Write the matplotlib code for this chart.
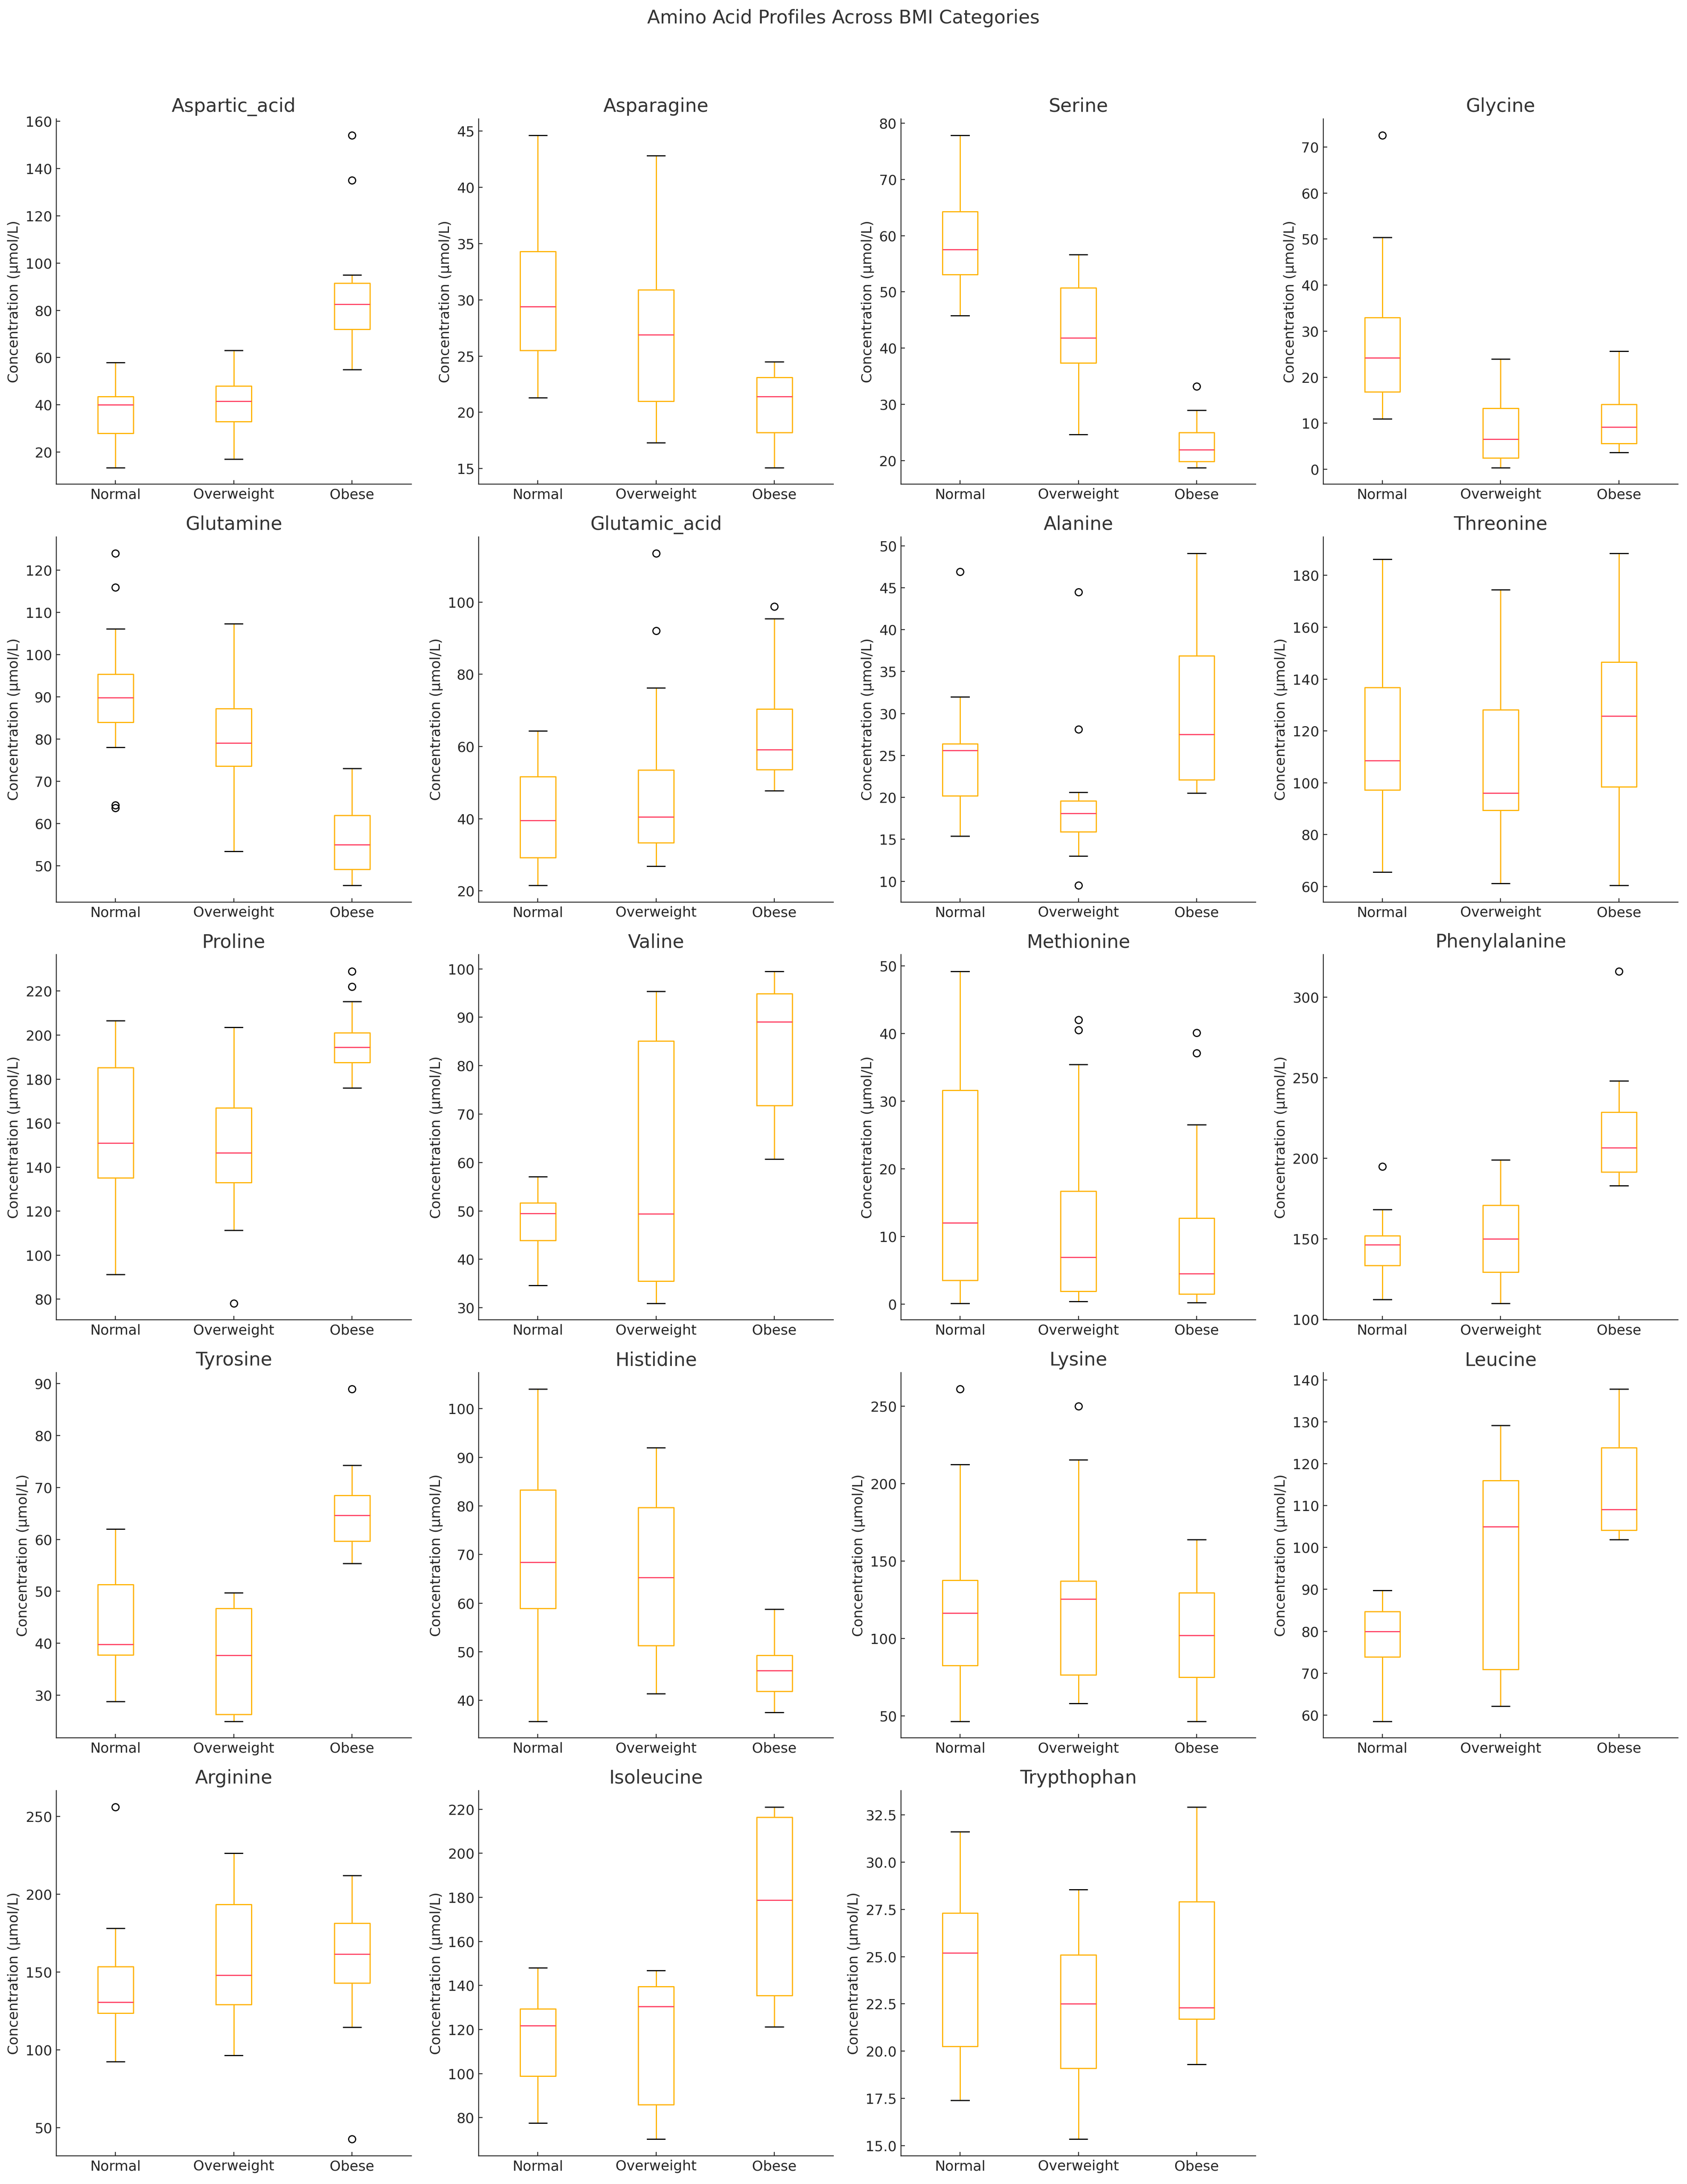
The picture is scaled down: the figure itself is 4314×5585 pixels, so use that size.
import matplotlib

matplotlib.use("Agg")
import matplotlib.pyplot as plt

# categories and amino acids (panel order)
categories = ["Normal", "Overweight", "Obese"]
amino_acids = [
    "Aspartic_acid", "Asparagine", "Serine", "Glycine",
    "Glutamine", "Glutamic_acid", "Alanine", "Threonine",
    "Proline", "Valine", "Methionine", "Phenylalanine",
    "Tyrosine", "Histidine", "Lysine", "Leucine",
    "Arginine", "Isoleucine", "Trypthophan",
]

# box statistics, one [Normal, Overweight, Obese] row per amino acid
whis_lo = [
    [13.5, 17.0, 55.0], [21.3, 17.3, 15.1], [45.8, 24.7, 18.8], [11.0, 0.4, 3.7],
    [78.0, 53.4, 45.3], [21.5, 26.8, 47.8], [15.4, 13.0, 20.5], [65.5, 61.2, 60.4],
    [91.2, 111.4, 176.0], [34.6, 30.9, 60.7], [0.1, 0.4, 0.2], [112.5, 110.0, 183.0],
    [28.8, 25.0, 55.4], [35.7, 41.4, 37.5], [46.5, 58.0, 46.5], [58.5, 62.1, 101.9],
    [92.5, 96.5, 114.5], [77.5, 70.2, 121.3], [17.4, 15.35, 19.3],
]
q1 = [
    [28.0, 33.0, 72.0], [25.5, 21.0, 18.2], [53.1, 37.4, 19.9], [16.8, 2.5, 5.6],
    [84.0, 73.6, 49.1], [29.2, 33.3, 53.6], [20.2, 15.9, 22.1], [97.2, 89.4, 98.5],
    [135.2, 133.0, 187.6], [43.9, 35.5, 71.8], [3.5, 1.9, 1.5], [133.5, 129.5, 191.5],
    [37.8, 26.3, 59.7], [58.9, 51.3, 41.9], [82.5, 76.5, 75.0], [73.9, 70.9, 104.1],
    [123.5, 129.0, 143.0], [98.8, 85.9, 135.4], [20.25, 19.1, 21.7],
]
median = [
    [40.0, 41.5, 82.5], [29.4, 26.9, 21.4], [57.5, 41.8, 22.0], [24.2, 6.6, 9.2],
    [89.8, 79.1, 55.0], [39.5, 40.5, 59.1], [25.6, 18.1, 27.5], [108.6, 96.0, 125.7],
    [151.0, 146.5, 194.4], [49.5, 49.4, 89.1], [12.0, 6.9, 4.5], [146.5, 150.0, 206.5],
    [39.8, 37.7, 64.6], [68.4, 65.3, 46.1], [116.5, 125.5, 102.0], [80.0, 105.0, 109.1],
    [130.5, 148.0, 161.5], [121.8, 130.4, 178.8], [25.2, 22.5, 22.3],
]
q3 = [
    [43.5, 48.0, 91.5], [34.3, 30.9, 23.1], [64.3, 50.7, 25.0], [33.0, 13.3, 14.1],
    [95.4, 87.2, 61.9], [51.6, 53.5, 70.4], [26.4, 19.6, 36.9], [136.8, 128.2, 146.5],
    [185.2, 167.0, 201.0], [51.7, 85.1, 94.9], [31.6, 16.7, 12.7], [152.0, 171.0, 228.5],
    [51.3, 46.7, 68.5], [83.3, 79.7, 49.3], [137.5, 137.0, 129.5], [84.7, 116.0, 123.8],
    [153.5, 193.5, 181.5], [129.4, 139.6, 216.4], [27.3, 25.1, 27.9],
]
whis_hi = [
    [58.0, 63.0, 95.0], [44.6, 42.8, 24.5], [77.8, 56.6, 29.0], [50.4, 24.0, 25.7],
    [106.1, 107.3, 73.0], [64.3, 76.2, 95.4], [32.0, 20.6, 49.1], [186.2, 174.5, 188.5],
    [206.5, 203.5, 215.3], [57.1, 95.4, 99.5], [49.2, 35.4, 26.5], [168.3, 199.0, 248.0],
    [62.0, 49.7, 74.3], [104.0, 92.0, 58.8], [212.5, 215.5, 164.0], [89.8, 129.2, 137.8],
    [178.0, 226.5, 212.0], [148.0, 146.8, 221.0], [31.6, 28.55, 32.9],
]
fliers = [
    [[], [], [135.0, 154.0]], [[], [], []], [[], [], [33.2]], [[72.5], [], []],
    [[124.0, 115.9, 64.3, 63.7], [], []], [[], [92.1, 113.5], [98.8]],
    [[46.9], [44.5, 28.1, 9.5], []], [[], [], []],
    [[], [78.1], [222.0, 229.0]], [[], [], []], [[], [42.0, 40.5], [40.1, 37.1]],
    [[195.0], [], [316.0]],
    [[], [], [88.9]], [[], [], []], [[261.0], [250.0], []], [[], [], []],
    [[256.0], [], [42.5]], [[], [], []], [[], [], []],
]

BOX_COLOR = "#FFB400"
MEDIAN_COLOR = "#FF4466"
TEXT_COLOR = "#262626"

DPI = 215
fig, axes = plt.subplots(5, 4, figsize=(4314 / DPI, 5585 / DPI), dpi=DPI)
fig.subplots_adjust(left=0.0334, right=0.9947, top=0.9456, bottom=0.0129,
                    wspace=0.19, hspace=0.144)

for i, ax in enumerate(axes.flat):
    if i >= len(amino_acids):
        ax.remove()
        continue

    stats = []
    for j, cat in enumerate(categories):
        stats.append({
            "label": cat,
            "whislo": whis_lo[i][j],
            "q1": q1[i][j],
            "med": median[i][j],
            "q3": q3[i][j],
            "whishi": whis_hi[i][j],
            "fliers": fliers[i][j],
        })

    ax.bxp(
        stats,
        boxprops=dict(color=BOX_COLOR, linewidth=1.0),
        whiskerprops=dict(color=BOX_COLOR, linewidth=1.0),
        capprops=dict(color="black", linewidth=1.0),
        medianprops=dict(color=MEDIAN_COLOR, linewidth=1.0),
        flierprops=dict(marker="o", markerfacecolor="none",
                        markeredgecolor="black", markersize=6),
    )

    ax.set_title(amino_acids[i], fontsize=16, color="#333333")
    ax.set_ylabel("Concentration (µmol/L)", fontsize=12, color=TEXT_COLOR)
    ax.spines["top"].set_visible(False)
    ax.spines["right"].set_visible(False)
    for side in ["left", "bottom"]:
        ax.spines[side].set_color(TEXT_COLOR)
    ax.tick_params(direction="in", labelsize=12, colors=TEXT_COLOR)

fig.suptitle("Amino Acid Profiles Across BMI Categories", fontsize=16,
             color="#333333", y=1 - 46 / 5585, va="center")

fig.savefig("out.png", dpi=DPI)
